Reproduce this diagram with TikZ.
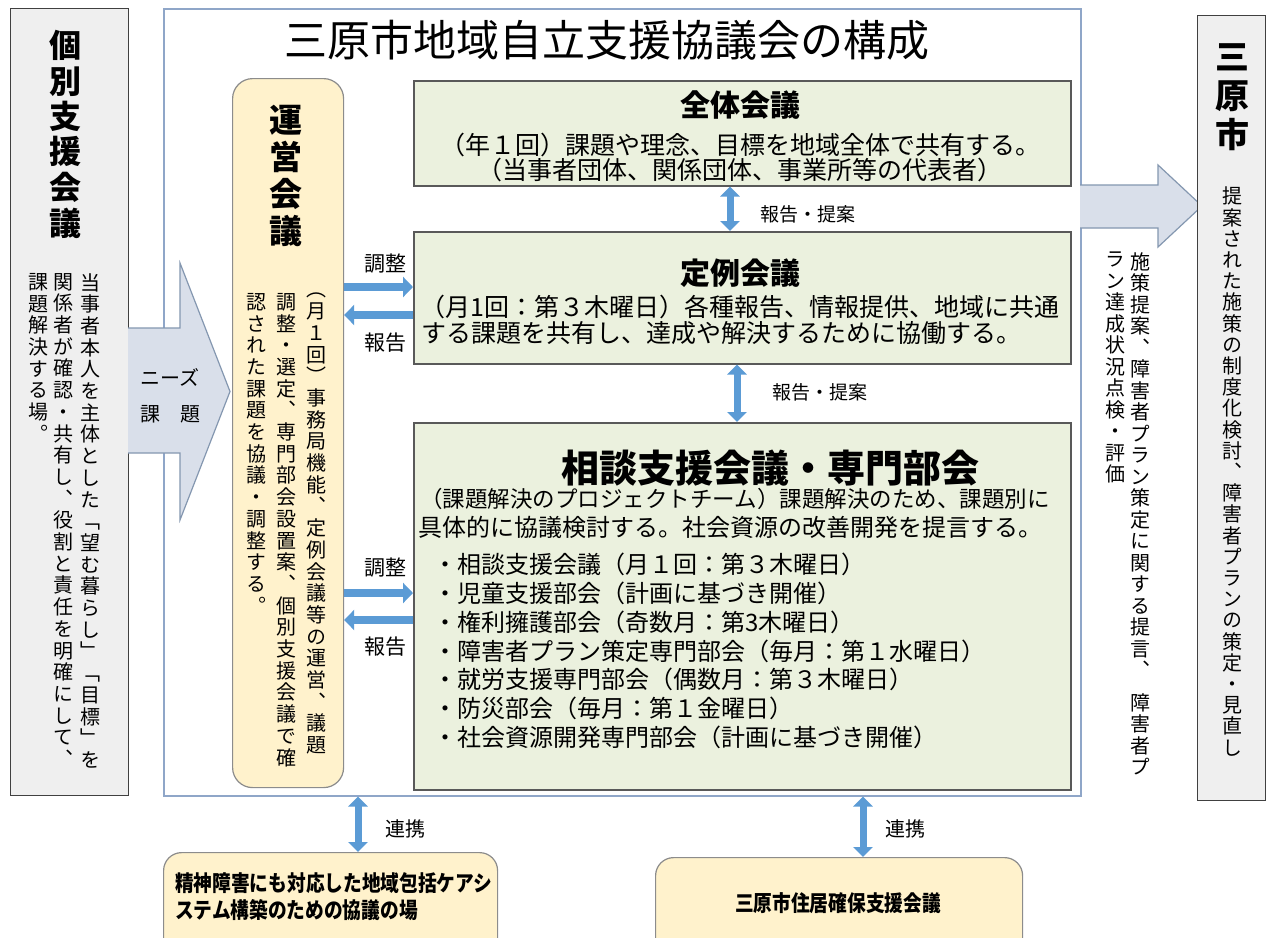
\documentclass[tikz,border=0pt]{standalone}
\usepackage{fontspec}
\newfontfamily\jp{Noto Sans CJK JP}
\newfontfamily\vjp[RawFeature=+vert]{Noto Sans CJK JP}
\usepackage{xcolor}
\usepackage{tikz}
\usetikzlibrary{arrows.meta}
\usetikzlibrary{positioning}

\definecolor{framec}{HTML}{8FA6C8}
\definecolor{grayfill}{HTML}{EFEFEF}
\definecolor{grayline}{HTML}{404040}
\definecolor{yelfill}{HTML}{FFF2CC}
\definecolor{yelline}{HTML}{8C8C8C}
\definecolor{grnfill}{HTML}{EBF1DE}
\definecolor{grnline}{HTML}{595959}
\definecolor{arrfill}{HTML}{D9DFEA}
\definecolor{arrline}{HTML}{8497B0}
\definecolor{bluearr}{HTML}{5B9BD5}

\ExplSyntaxOn
\bool_new:N \l__vcol_first_bool
\NewDocumentCommand\vcol{m}
  {
    \bool_set_true:N \l__vcol_first_bool
    \tl_map_inline:nn {#1}
      {
        \bool_if:NF \l__vcol_first_bool { \\ }
        \bool_set_false:N \l__vcol_first_bool
        ##1
      }
  }
\ExplSyntaxOff

\begin{document}
\begin{tikzpicture}[x=1pt,y=-1pt,
  graybox/.style={draw=grayline,fill=grayfill,line width=1.2pt,anchor=north west,inner sep=0pt},
  framebox/.style={draw=framec,line width=1.5pt,anchor=north west,inner sep=0pt},
  yelbox/.style={draw=yelline,fill=yelfill,line width=1.2pt,rounded corners=20pt,anchor=north west,inner sep=0pt},
  grnbox/.style={draw=grnline,fill=grnfill,line width=1.5pt,anchor=north west,inner sep=0pt},
  blockarrow/.style={draw=arrline,fill=arrfill,line width=1.2pt,line join=miter},
  bluearrow/.style={draw=bluearr,line width=8pt,-{Triangle[width=20pt,length=10pt]}},
  bothways/.style={draw=bluearr,line width=7pt,{Triangle[width=19pt,length=10pt]}-{Triangle[width=19pt,length=10pt]}},
  vtext/.style={inner sep=0pt,anchor=north,align=center,font={\vjp\fontsize{20}{21.7}\selectfont}},
  vtitle/.style={inner sep=0pt,anchor=north,align=center,font={\vjp\bfseries\fontsize{32}{35.5}\selectfont}},
  gtitle/.style={inner sep=0pt,font={\jp\bfseries\fontsize{30}{30}\selectfont}},
  gtext/.style={inner sep=0pt,font={\jp\fontsize{25}{25}\selectfont}},
  lbl/.style={inner sep=0pt,font={\jp\fontsize{21}{21}\selectfont}},
  btext/.style={inner sep=0pt,xscale=0.85,transform shape,font={\jp\bfseries\fontsize{22}{27}\selectfont}}]
\clip (0,0) rectangle (1274,937);
\fill[white] (0,0) rectangle (1274,937);

\node[framebox,minimum width=917,minimum height=787] (frame) at (163,8) {};
\node[font={\jp\fontsize{43}{43}\selectfont}] (title) at (607,40) {三原市地域自立支援協議会の構成};

\node[graybox,minimum width=118,minimum height=787] (kobetsu) at (10,8) {};
\node[vtitle] (kobetsuT) at (65,30) {\vcol{個別支援会議}};
\node[vtext] (kobetsuA) at (90,273) {\vcol{当事者本人を主体とした「望む暮らし」「目標」を}};
\node[vtext] (kobetsuB) at (63,273) {\vcol{関係者が確認・共有し、役割と責任を明確にして、}};
\node[vtext] (kobetsuC) at (38,273) {\vcol{課題解決する場。}};

\path[blockarrow] (128,328) -- (180,328) -- (180,263) -- (230,391.5) -- (180,520) -- (180,453) -- (128,453);
\node[lbl,align=center,font={\jp\fontsize{20}{36}\selectfont}] (needs) at (170,396) {ニーズ\\課　題};

\node[yelbox,minimum width=111,minimum height=709] (unei) at (232,78) {};
\node[vtitle,font={\vjp\bfseries\fontsize{33}{37}\selectfont}] (ueniT) at (286,105) {\vcol{運営会議}};
\node[vtext] (uneiA) at (316,293) {\vcol{（月１回）事務局機能、定例会議等の運営、議題}};
\node[vtext] (uneiB) at (286,293) {\vcol{調整・選定、専門部会設置案、個別支援会議で確}};
\node[vtext] (uneiC) at (256,293) {\vcol{認された課題を協議・調整する。}};

\node[grnbox,minimum width=657,minimum height=105] (zentai) at (413,80) {};
\node[gtitle] (zentaiT) at (740,105) {全体会議};
\node[gtext] (zentaiA) at (740,145) {（年１回）課題や理念、目標を地域全体で共有する。};
\node[gtext] (zentaiB) at (740,170) {（当事者団体、関係団体、事業所等の代表者）};

\node[grnbox,minimum width=657,minimum height=132] (teirei) at (413,231) {};
\node[gtitle] (teireiT) at (740,273) {定例会議};
\node[gtext,anchor=west] (teireiA) at (420,307) {（月1回：第３木曜日）各種報告、情報提供、地域に共通};
\node[gtext,anchor=west] (teireiB) at (421,333) {する課題を共有し、達成や解決するために協働する。};

\node[grnbox,minimum width=657,minimum height=367] (soudan) at (413,422) {};
\node[gtitle,font={\jp\bfseries\fontsize{38}{38}\selectfont}] (soudanT) at (770,468) {相談支援会議・専門部会};
\node[gtext,anchor=west,font={\jp\fontsize{22.5}{22.5}\selectfont}] (soudanA) at (420,499) {（課題解決のプロジェクトチーム）課題解決のため、課題別に};
\node[gtext,anchor=west,font={\jp\fontsize{24}{24}\selectfont}] (soudanB) at (418,527) {具体的に協議検討する。社会資源の改善開発を提言する。};
\node[gtext,anchor=north west,align=left,font={\jp\fontsize{24}{28.8}\selectfont}] (soudanL) at (433,553)
  {・相談支援会議（月１回：第３木曜日）\\
   ・児童支援部会（計画に基づき開催）\\
   ・権利擁護部会（奇数月：第3木曜日）\\
   ・障害者プラン策定専門部会（毎月：第１水曜日）\\
   ・就労支援専門部会（偶数月：第３木曜日）\\
   ・防災部会（毎月：第１金曜日）\\
   ・社会資源開発専門部会（計画に基づき開催）};

\coordinate (rowA) at (0,287);
\coordinate (rowB) at (0,315);
\coordinate (rowC) at (0,593);
\coordinate (rowD) at (0,620);
\draw[bluearrow] (unei.east |- rowA) -- (teirei.west |- rowA);
\draw[bluearrow] (teirei.west |- rowB) -- (unei.east |- rowB);
\draw[bluearrow] (unei.east |- rowC) -- (soudan.west |- rowC);
\draw[bluearrow] (soudan.west |- rowD) -- (unei.east |- rowD);
\node[lbl] (chouseiA) at (385,264) {調整};
\node[lbl] (houkokuA) at (385,343) {報告};
\node[lbl] (chouseiB) at (385,568) {調整};
\node[lbl] (houkokuB) at (385,647) {報告};

\coordinate (colA) at (730,0);
\coordinate (colB) at (737,0);
\draw[bothways] (zentai.south -| colA) -- (teirei.north -| colA);
\draw[bothways] (teirei.south -| colB) -- (soudan.north -| colB);
\node[lbl,font={\jp\fontsize{19}{19}\selectfont}] (teianA) at (808,214) {報告・提案};
\node[lbl,font={\jp\fontsize{19}{19}\selectfont}] (teianB) at (820,392) {報告・提案};

\path[blockarrow] (1080,185) -- (1158,185) -- (1158,165) -- (1202,206) -- (1158,247) -- (1158,228) -- (1080,228);
\node[vtext,font={\vjp\fontsize{20}{21.5}\selectfont}] (sesakuA) at (1140,252) {\vcol{施策提案、障害者プラン策定に関する提言、}};
\node[vtext,font={\vjp\fontsize{20}{21.5}\selectfont}] (sesakuB) at (1140,693) {\vcol{障害者プ}};
\node[vtext,font={\vjp\fontsize{20}{21.5}\selectfont}] (sesakuC) at (1115,252) {\vcol{ラン達成状況点検・評価}};

\node[graybox,minimum width=68,minimum height=785] (mihara) at (1197,15) {};
\node[vtitle,font={\vjp\bfseries\fontsize{34}{39}\selectfont}] (miharaT) at (1232,43) {\vcol{三原市}};
\node[vtext,font={\vjp\fontsize{20}{21.2}\selectfont}] (miharaA) at (1232,187) {\vcol{提案された施策の制度化検討、障害者プランの策定・見直し}};

\node[yelbox,rounded corners=18pt,minimum width=334,minimum height=120] (seishin) at (163,852) {};
\node[btext,anchor=north west,align=left] (seishinT) at (175,872) {精神障害にも対応した地域包括ケアシ\\ステム構築のための協議の場};
\node[yelbox,rounded corners=18pt,minimum width=367,minimum height=120] (jukyo) at (655,857) {};
\node[btext] (jukyoT) at (838,903) {三原市住居確保支援会議};

\coordinate (colC) at (358,0);
\coordinate (colD) at (863,0);
\draw[bothways] (frame.south -| colC) -- (seishin.north -| colC);
\draw[bothways] (frame.south -| colD) -- (jukyo.north -| colD);
\node[lbl,font={\jp\fontsize{20}{20}\selectfont}] (renkeiA) at (405,829) {連携};
\node[lbl,font={\jp\fontsize{20}{20}\selectfont}] (renkeiB) at (905,829) {連携};
\end{tikzpicture}
\end{document}
